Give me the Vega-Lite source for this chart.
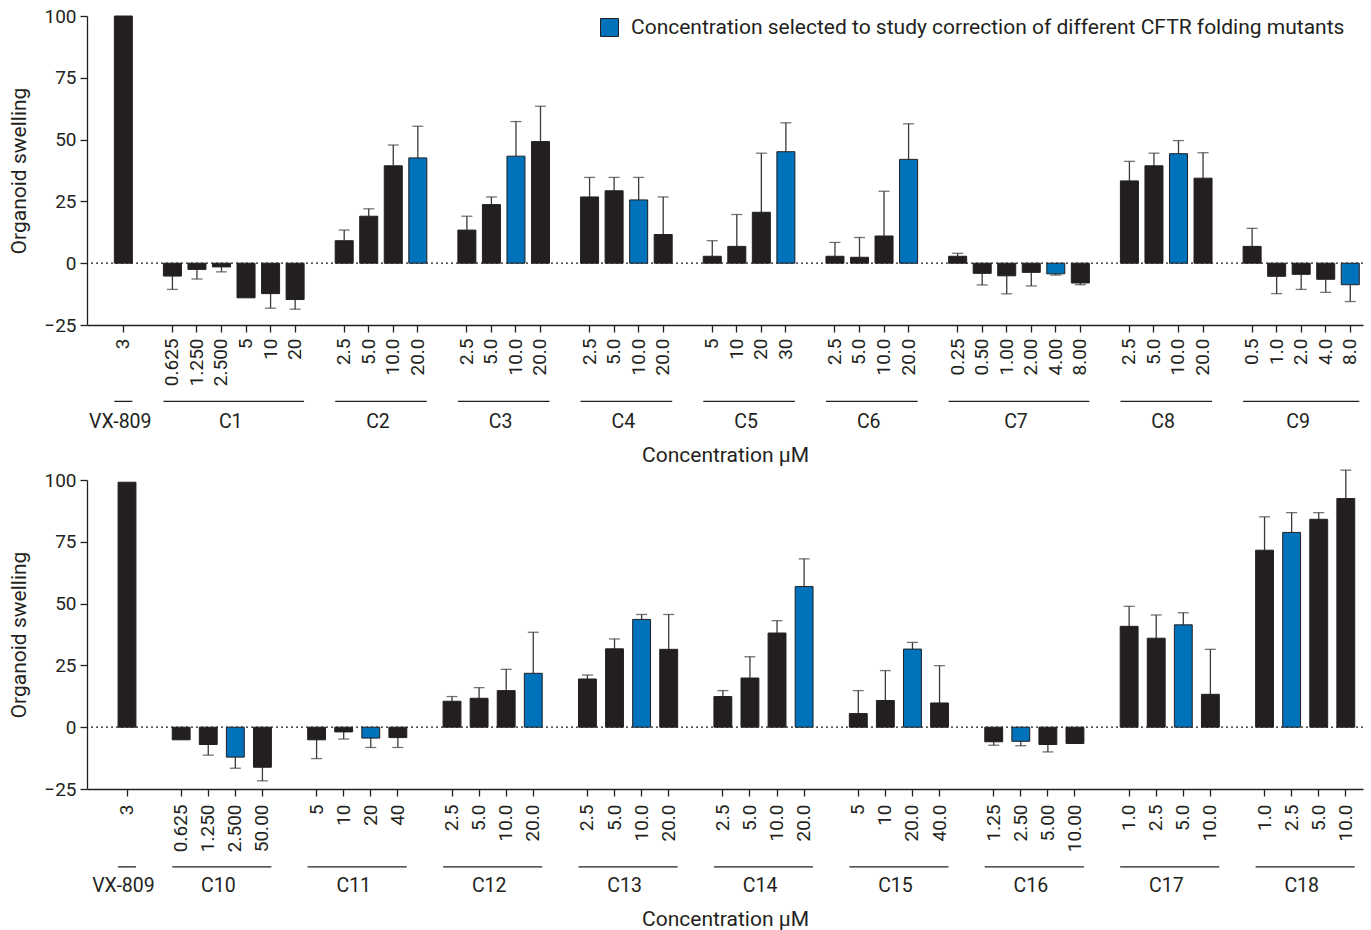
{
  "$schema": "https://vega.github.io/schema/vega-lite/v6.json",
  "padding": {"left": 8, "top": 7, "right": 5, "bottom": 5},
  "background": "white",
  "spacing": 3,
  "config": {
    "font": "Roboto",
    "view": {"stroke": null},
    "axis": {
      "labelFont": "Roboto", "titleFont": "Roboto",
      "labelColor": "#231f20", "titleColor": "#231f20",
      "titleFontWeight": "normal", "domainColor": "#231f20", "tickColor": "#231f20",
      "domainWidth": 1.3, "tickWidth": 1.3, "tickSize": 7,
      "labelFontSize": 19, "titleFontSize": 21, "grid": false
    },
    "text": {"font": "Roboto"}
  },
  "datasets": {
    "bars": [
      {"panel":"top","compound":"VX-809","conc":"3","key":"VX-809|3","value":100,"tip":null,"selected":"no"},
      {"panel":"top","compound":"C1","conc":"0.625","key":"C1|0.625","value":-5.2,"tip":-10.6,"selected":"no"},
      {"panel":"top","compound":"C1","conc":"1.250","key":"C1|1.250","value":-2.5,"tip":-6.4,"selected":"no"},
      {"panel":"top","compound":"C1","conc":"2.500","key":"C1|2.500","value":-1.5,"tip":-3.5,"selected":"no"},
      {"panel":"top","compound":"C1","conc":"5","key":"C1|5","value":-14.0,"tip":null,"selected":"no"},
      {"panel":"top","compound":"C1","conc":"10","key":"C1|10","value":-12.3,"tip":-18.2,"selected":"no"},
      {"panel":"top","compound":"C1","conc":"20","key":"C1|20","value":-14.7,"tip":-18.6,"selected":"no"},
      {"panel":"top","compound":"C2","conc":"2.5","key":"C2|2.5","value":9.1,"tip":13.4,"selected":"no"},
      {"panel":"top","compound":"C2","conc":"5.0","key":"C2|5.0","value":19.0,"tip":22.0,"selected":"no"},
      {"panel":"top","compound":"C2","conc":"10.0","key":"C2|10.0","value":39.4,"tip":47.8,"selected":"no"},
      {"panel":"top","compound":"C2","conc":"20.0","key":"C2|20.0","value":42.6,"tip":55.4,"selected":"yes"},
      {"panel":"top","compound":"C3","conc":"2.5","key":"C3|2.5","value":13.4,"tip":19.0,"selected":"no"},
      {"panel":"top","compound":"C3","conc":"5.0","key":"C3|5.0","value":23.7,"tip":26.8,"selected":"no"},
      {"panel":"top","compound":"C3","conc":"10.0","key":"C3|10.0","value":43.3,"tip":57.3,"selected":"yes"},
      {"panel":"top","compound":"C3","conc":"20.0","key":"C3|20.0","value":49.2,"tip":63.5,"selected":"no"},
      {"panel":"top","compound":"C4","conc":"2.5","key":"C4|2.5","value":26.8,"tip":34.7,"selected":"no"},
      {"panel":"top","compound":"C4","conc":"5.0","key":"C4|5.0","value":29.3,"tip":34.7,"selected":"no"},
      {"panel":"top","compound":"C4","conc":"10.0","key":"C4|10.0","value":25.6,"tip":34.7,"selected":"yes"},
      {"panel":"top","compound":"C4","conc":"20.0","key":"C4|20.0","value":11.6,"tip":26.8,"selected":"no"},
      {"panel":"top","compound":"C5","conc":"5","key":"C5|5","value":2.8,"tip":9.1,"selected":"no"},
      {"panel":"top","compound":"C5","conc":"10","key":"C5|10","value":6.8,"tip":19.7,"selected":"no"},
      {"panel":"top","compound":"C5","conc":"20","key":"C5|20","value":20.6,"tip":44.5,"selected":"no"},
      {"panel":"top","compound":"C5","conc":"30","key":"C5|30","value":45.1,"tip":56.8,"selected":"yes"},
      {"panel":"top","compound":"C6","conc":"2.5","key":"C6|2.5","value":2.8,"tip":8.4,"selected":"no"},
      {"panel":"top","compound":"C6","conc":"5.0","key":"C6|5.0","value":2.4,"tip":10.4,"selected":"no"},
      {"panel":"top","compound":"C6","conc":"10.0","key":"C6|10.0","value":11.0,"tip":29.1,"selected":"no"},
      {"panel":"top","compound":"C6","conc":"20.0","key":"C6|20.0","value":42.0,"tip":56.4,"selected":"yes"},
      {"panel":"top","compound":"C7","conc":"0.25","key":"C7|0.25","value":2.8,"tip":4.0,"selected":"no"},
      {"panel":"top","compound":"C7","conc":"0.50","key":"C7|0.50","value":-4.1,"tip":-8.8,"selected":"no"},
      {"panel":"top","compound":"C7","conc":"1.00","key":"C7|1.00","value":-5.1,"tip":-12.4,"selected":"no"},
      {"panel":"top","compound":"C7","conc":"2.00","key":"C7|2.00","value":-3.7,"tip":-9.2,"selected":"no"},
      {"panel":"top","compound":"C7","conc":"4.00","key":"C7|4.00","value":-4.3,"tip":-4.8,"selected":"yes"},
      {"panel":"top","compound":"C7","conc":"8.00","key":"C7|8.00","value":-8.0,"tip":-8.7,"selected":"no"},
      {"panel":"top","compound":"C8","conc":"2.5","key":"C8|2.5","value":33.3,"tip":41.2,"selected":"no"},
      {"panel":"top","compound":"C8","conc":"5.0","key":"C8|5.0","value":39.4,"tip":44.5,"selected":"no"},
      {"panel":"top","compound":"C8","conc":"10.0","key":"C8|10.0","value":44.3,"tip":49.6,"selected":"yes"},
      {"panel":"top","compound":"C8","conc":"20.0","key":"C8|20.0","value":34.4,"tip":44.7,"selected":"no"},
      {"panel":"top","compound":"C9","conc":"0.5","key":"C9|0.5","value":6.8,"tip":14.1,"selected":"no"},
      {"panel":"top","compound":"C9","conc":"1.0","key":"C9|1.0","value":-5.3,"tip":-12.3,"selected":"no"},
      {"panel":"top","compound":"C9","conc":"2.0","key":"C9|2.0","value":-4.5,"tip":-10.6,"selected":"no"},
      {"panel":"top","compound":"C9","conc":"4.0","key":"C9|4.0","value":-6.5,"tip":-11.8,"selected":"no"},
      {"panel":"top","compound":"C9","conc":"8.0","key":"C9|8.0","value":-8.7,"tip":-15.5,"selected":"yes"},
      {"panel":"bottom","compound":"VX-809","conc":"3","key":"VX-809|3","value":99.1,"tip":null,"selected":"no"},
      {"panel":"bottom","compound":"C10","conc":"0.625","key":"C10|0.625","value":-5.1,"tip":null,"selected":"no"},
      {"panel":"bottom","compound":"C10","conc":"1.250","key":"C10|1.250","value":-7.0,"tip":-11.3,"selected":"no"},
      {"panel":"bottom","compound":"C10","conc":"2.500","key":"C10|2.500","value":-12.1,"tip":-16.6,"selected":"yes"},
      {"panel":"bottom","compound":"C10","conc":"50.00","key":"C10|50.00","value":-16.2,"tip":-21.7,"selected":"no"},
      {"panel":"bottom","compound":"C11","conc":"5","key":"C11|5","value":-5.1,"tip":-12.7,"selected":"no"},
      {"panel":"bottom","compound":"C11","conc":"10","key":"C11|10","value":-1.9,"tip":-4.8,"selected":"no"},
      {"panel":"bottom","compound":"C11","conc":"20","key":"C11|20","value":-4.4,"tip":-8.2,"selected":"yes"},
      {"panel":"bottom","compound":"C11","conc":"40","key":"C11|40","value":-4.2,"tip":-8.2,"selected":"no"},
      {"panel":"bottom","compound":"C12","conc":"2.5","key":"C12|2.5","value":10.5,"tip":12.4,"selected":"no"},
      {"panel":"bottom","compound":"C12","conc":"5.0","key":"C12|5.0","value":11.7,"tip":16.0,"selected":"no"},
      {"panel":"bottom","compound":"C12","conc":"10.0","key":"C12|10.0","value":14.8,"tip":23.4,"selected":"no"},
      {"panel":"bottom","compound":"C12","conc":"20.0","key":"C12|20.0","value":21.8,"tip":38.4,"selected":"yes"},
      {"panel":"bottom","compound":"C13","conc":"2.5","key":"C13|2.5","value":19.5,"tip":21.1,"selected":"no"},
      {"panel":"bottom","compound":"C13","conc":"5.0","key":"C13|5.0","value":31.7,"tip":35.7,"selected":"no"},
      {"panel":"bottom","compound":"C13","conc":"10.0","key":"C13|10.0","value":43.6,"tip":45.6,"selected":"yes"},
      {"panel":"bottom","compound":"C13","conc":"20.0","key":"C13|20.0","value":31.5,"tip":45.6,"selected":"no"},
      {"panel":"bottom","compound":"C14","conc":"2.5","key":"C14|2.5","value":12.4,"tip":14.8,"selected":"no"},
      {"panel":"bottom","compound":"C14","conc":"5.0","key":"C14|5.0","value":19.9,"tip":28.5,"selected":"no"},
      {"panel":"bottom","compound":"C14","conc":"10.0","key":"C14|10.0","value":38.1,"tip":43.1,"selected":"no"},
      {"panel":"bottom","compound":"C14","conc":"20.0","key":"C14|20.0","value":56.9,"tip":68.1,"selected":"yes"},
      {"panel":"bottom","compound":"C15","conc":"5","key":"C15|5","value":5.5,"tip":14.8,"selected":"no"},
      {"panel":"bottom","compound":"C15","conc":"10","key":"C15|10","value":10.8,"tip":22.9,"selected":"no"},
      {"panel":"bottom","compound":"C15","conc":"20.0","key":"C15|20.0","value":31.6,"tip":34.3,"selected":"yes"},
      {"panel":"bottom","compound":"C15","conc":"40.0","key":"C15|40.0","value":9.8,"tip":24.9,"selected":"no"},
      {"panel":"bottom","compound":"C16","conc":"1.25","key":"C16|1.25","value":-5.9,"tip":-7.3,"selected":"no"},
      {"panel":"bottom","compound":"C16","conc":"2.50","key":"C16|2.50","value":-5.7,"tip":-7.5,"selected":"yes"},
      {"panel":"bottom","compound":"C16","conc":"5.00","key":"C16|5.00","value":-7.0,"tip":-10.0,"selected":"no"},
      {"panel":"bottom","compound":"C16","conc":"10.00","key":"C16|10.00","value":-6.6,"tip":null,"selected":"no"},
      {"panel":"bottom","compound":"C17","conc":"1.0","key":"C17|1.0","value":40.8,"tip":48.9,"selected":"no"},
      {"panel":"bottom","compound":"C17","conc":"2.5","key":"C17|2.5","value":36.0,"tip":45.4,"selected":"no"},
      {"panel":"bottom","compound":"C17","conc":"5.0","key":"C17|5.0","value":41.4,"tip":46.3,"selected":"yes"},
      {"panel":"bottom","compound":"C17","conc":"10.0","key":"C17|10.0","value":13.3,"tip":31.5,"selected":"no"},
      {"panel":"bottom","compound":"C18","conc":"1.0","key":"C18|1.0","value":71.6,"tip":85.1,"selected":"no"},
      {"panel":"bottom","compound":"C18","conc":"2.5","key":"C18|2.5","value":78.8,"tip":86.8,"selected":"yes"},
      {"panel":"bottom","compound":"C18","conc":"5.0","key":"C18|5.0","value":84.1,"tip":86.8,"selected":"no"},
      {"panel":"bottom","compound":"C18","conc":"10.0","key":"C18|10.0","value":92.5,"tip":104.0,"selected":"no"}
    ],
    "groups": [
      {"panel":"top","compound":"VX-809","first":"VX-809|3","last":"VX-809|3","mid":"VX-809|3","even":false},
      {"panel":"top","compound":"C1","first":"C1|0.625","last":"C1|20","mid":"C1|5","even":true},
      {"panel":"top","compound":"C2","first":"C2|2.5","last":"C2|20.0","mid":"C2|10.0","even":true},
      {"panel":"top","compound":"C3","first":"C3|2.5","last":"C3|20.0","mid":"C3|10.0","even":true},
      {"panel":"top","compound":"C4","first":"C4|2.5","last":"C4|20.0","mid":"C4|10.0","even":true},
      {"panel":"top","compound":"C5","first":"C5|5","last":"C5|30","mid":"C5|20","even":true},
      {"panel":"top","compound":"C6","first":"C6|2.5","last":"C6|20.0","mid":"C6|10.0","even":true},
      {"panel":"top","compound":"C7","first":"C7|0.25","last":"C7|8.00","mid":"C7|2.00","even":true},
      {"panel":"top","compound":"C8","first":"C8|2.5","last":"C8|20.0","mid":"C8|10.0","even":true},
      {"panel":"top","compound":"C9","first":"C9|0.5","last":"C9|8.0","mid":"C9|2.0","even":false},
      {"panel":"bottom","compound":"VX-809","first":"VX-809|3","last":"VX-809|3","mid":"VX-809|3","even":false},
      {"panel":"bottom","compound":"C10","first":"C10|0.625","last":"C10|50.00","mid":"C10|2.500","even":true},
      {"panel":"bottom","compound":"C11","first":"C11|5","last":"C11|40","mid":"C11|20","even":true},
      {"panel":"bottom","compound":"C12","first":"C12|2.5","last":"C12|20.0","mid":"C12|10.0","even":true},
      {"panel":"bottom","compound":"C13","first":"C13|2.5","last":"C13|20.0","mid":"C13|10.0","even":true},
      {"panel":"bottom","compound":"C14","first":"C14|2.5","last":"C14|20.0","mid":"C14|10.0","even":true},
      {"panel":"bottom","compound":"C15","first":"C15|5","last":"C15|40.0","mid":"C15|20.0","even":true},
      {"panel":"bottom","compound":"C16","first":"C16|1.25","last":"C16|10.00","mid":"C16|5.00","even":true},
      {"panel":"bottom","compound":"C17","first":"C17|1.0","last":"C17|10.0","mid":"C17|5.0","even":true},
      {"panel":"bottom","compound":"C18","first":"C18|1.0","last":"C18|10.0","mid":"C18|5.0","even":true}
    ]
  },
  "resolve": {"scale": {"color": "independent"}, "legend": {"color": "independent"}},
  "vconcat": [
    {
      "width": 1276,
      "height": 309,
      "layer": [
        {
          "data": {"values": [{}]},
          "mark": {"type": "rule", "strokeDash": [2, 3], "color": "#231f20", "strokeWidth": 1.2},
          "encoding": {"y": {"datum": 0, "type": "quantitative", "title": "Organoid swelling"}}
        },
        {
          "data": {"name": "bars"},
          "transform": [{"filter": "datum.panel == 'top' && datum.tip != null"}],
          "mark": {"type": "rule", "color": "#3a3a3a", "strokeWidth": 1.3},
          "encoding": {
            "x": {"field": "key", "type": "nominal", "title": "Concentration µM"},
            "y": {"field": "value", "type": "quantitative", "title": "Organoid swelling"},
            "y2": {"field": "tip"}
          }
        },
        {
          "data": {"name": "bars"},
          "transform": [{"filter": "datum.panel == 'top' && datum.tip != null"}],
          "mark": {"type": "tick", "color": "#3a3a3a", "thickness": 1.3, "size": 11},
          "encoding": {
            "x": {"field": "key", "type": "nominal", "title": "Concentration µM"},
            "y": {"field": "tip", "type": "quantitative", "title": "Organoid swelling"}
          }
        },
        {
          "data": {"name": "bars"},
          "transform": [{"filter": "datum.panel == 'top'"}],
          "mark": {"type": "bar", "stroke": "#231f20", "strokeWidth": 1},
          "encoding": {
            "x": {
              "field": "key", "type": "nominal", "title": "Concentration µM",
              "scale": {
                "domain": ["VX-809|3","g1","C1|0.625","C1|1.250","C1|2.500","C1|5","C1|10","C1|20","g2","C2|2.5","C2|5.0","C2|10.0","C2|20.0","g3","C3|2.5","C3|5.0","C3|10.0","C3|20.0","g4","C4|2.5","C4|5.0","C4|10.0","C4|20.0","g5","C5|5","C5|10","C5|20","C5|30","g6","C6|2.5","C6|5.0","C6|10.0","C6|20.0","g7","C7|0.25","C7|0.50","C7|1.00","C7|2.00","C7|4.00","C7|8.00","g8","C8|2.5","C8|5.0","C8|10.0","C8|20.0","g9","C9|0.5","C9|1.0","C9|2.0","C9|4.0","C9|8.0"],
                "paddingInner": 0.266, "paddingOuter": 0.633, "align": 0.88
              },
              "axis": {
                "labelAngle": -90,
                "labelExpr": "indexof(datum.value, '|') < 0 ? '' : split(datum.value, '|')[1]",
                "tickOpacity": {"condition": {"test": "indexof(datum.value, '|') < 0", "value": 0}, "value": 1},
                "labelPadding": 6,
                "titlePadding": 59
              }
            },
            "y": {
              "field": "value", "type": "quantitative", "title": "Organoid swelling", "stack": null,
              "scale": {"domain": [-25, 100], "nice": false},
              "axis": {"values": [-25, 0, 25, 50, 75, 100], "titlePadding": 14, "labelPadding": 4}
            },
            "y2": {"datum": 0},
            "color": {
              "field": "selected", "type": "nominal",
              "scale": {"domain": ["no", "yes"], "range": ["#231f20", "#0072bc"]},
              "legend": {
                "title": null, "values": ["yes"],
                "labelExpr": "'Concentration selected to study correction of different CFTR folding mutants'",
                "orient": "none", "legendX": 512, "legendY": 1, "padding": 0,
                "symbolType": "square", "symbolSize": 324,
                "symbolStrokeColor": "#231f20", "symbolStrokeWidth": 1,
                "labelFontSize": 21, "labelFont": "Roboto", "labelColor": "#231f20",
                "labelLimit": 1000, "labelOffset": 11
              }
            }
          }
        },
        {
          "data": {"name": "groups"},
          "transform": [{"filter": "datum.panel == 'top'"}],
          "mark": {"type": "rule", "color": "#231f20", "strokeWidth": 1.3},
          "encoding": {
            "x": {"field": "first", "type": "nominal", "bandPosition": 0, "title": "Concentration µM"},
            "x2": {"field": "last", "bandPosition": 1},
            "y": {"datum": -55.9, "type": "quantitative", "title": "Organoid swelling"}
          }
        },
        {
          "data": {"name": "groups"},
          "transform": [{"filter": "datum.panel == 'top' && !datum.even"}],
          "mark": {"type": "text", "fontSize": 19.5, "color": "#231f20", "baseline": "alphabetic", "align": "center"},
          "encoding": {
            "x": {"field": "mid", "type": "nominal", "bandPosition": 0.33, "title": "Concentration µM"},
            "y": {"datum": -66.5, "type": "quantitative", "title": "Organoid swelling"},
            "text": {"field": "compound"}
          }
        },
        {
          "data": {"name": "groups"},
          "transform": [{"filter": "datum.panel == 'top' && datum.even"}],
          "mark": {"type": "text", "fontSize": 19.5, "color": "#231f20", "baseline": "alphabetic", "align": "center"},
          "encoding": {
            "x": {"field": "mid", "type": "nominal", "bandPosition": -0.35, "title": "Concentration µM"},
            "y": {"datum": -66.5, "type": "quantitative", "title": "Organoid swelling"},
            "text": {"field": "compound"}
          }
        }
      ]
    },
    {
      "width": 1276,
      "height": 309,
      "layer": [
        {
          "data": {"values": [{}]},
          "mark": {"type": "rule", "strokeDash": [2, 3], "color": "#231f20", "strokeWidth": 1.2},
          "encoding": {"y": {"datum": 0, "type": "quantitative", "title": "Organoid swelling"}}
        },
        {
          "data": {"name": "bars"},
          "transform": [{"filter": "datum.panel == 'bottom' && datum.tip != null"}],
          "mark": {"type": "rule", "color": "#3a3a3a", "strokeWidth": 1.3},
          "encoding": {
            "x": {"field": "key", "type": "nominal", "title": "Concentration µM"},
            "y": {"field": "value", "type": "quantitative", "title": "Organoid swelling"},
            "y2": {"field": "tip"}
          }
        },
        {
          "data": {"name": "bars"},
          "transform": [{"filter": "datum.panel == 'bottom' && datum.tip != null"}],
          "mark": {"type": "tick", "color": "#3a3a3a", "thickness": 1.3, "size": 11},
          "encoding": {
            "x": {"field": "key", "type": "nominal", "title": "Concentration µM"},
            "y": {"field": "tip", "type": "quantitative", "title": "Organoid swelling"}
          }
        },
        {
          "data": {"name": "bars"},
          "transform": [{"filter": "datum.panel == 'bottom'"}],
          "mark": {"type": "bar", "stroke": "#231f20", "strokeWidth": 1},
          "encoding": {
            "x": {
              "field": "key", "type": "nominal", "title": "Concentration µM",
              "scale": {
                "domain": ["VX-809|3","g1","C10|0.625","C10|1.250","C10|2.500","C10|50.00","g2","C11|5","C11|10","C11|20","C11|40","g3","C12|2.5","C12|5.0","C12|10.0","C12|20.0","g4","C13|2.5","C13|5.0","C13|10.0","C13|20.0","g5","C14|2.5","C14|5.0","C14|10.0","C14|20.0","g6","C15|5","C15|10","C15|20.0","C15|40.0","g7","C16|1.25","C16|2.50","C16|5.00","C16|10.00","g8","C17|1.0","C17|2.5","C17|5.0","C17|10.0","g9","C18|1.0","C18|2.5","C18|5.0","C18|10.0"],
                "paddingInner": 0.34, "paddingOuter": 0.726, "align": 0.79
              },
              "axis": {
                "labelAngle": -90,
                "labelExpr": "indexof(datum.value, '|') < 0 ? '' : split(datum.value, '|')[1]",
                "tickOpacity": {"condition": {"test": "indexof(datum.value, '|') < 0", "value": 0}, "value": 1},
                "labelPadding": 8,
                "titlePadding": 57
              }
            },
            "y": {
              "field": "value", "type": "quantitative", "title": "Organoid swelling", "stack": null,
              "scale": {"domain": [-25, 100], "nice": false},
              "axis": {"values": [-25, 0, 25, 50, 75, 100], "titlePadding": 14, "labelPadding": 4}
            },
            "y2": {"datum": 0},
            "color": {
              "field": "selected", "type": "nominal",
              "scale": {"domain": ["no", "yes"], "range": ["#231f20", "#0072bc"]},
              "legend": null
            }
          }
        },
        {
          "data": {"name": "groups"},
          "transform": [{"filter": "datum.panel == 'bottom'"}],
          "mark": {"type": "rule", "color": "#231f20", "strokeWidth": 1.3},
          "encoding": {
            "x": {"field": "first", "type": "nominal", "bandPosition": 0, "title": "Concentration µM"},
            "x2": {"field": "last", "bandPosition": 1},
            "y": {"datum": -56.5, "type": "quantitative", "title": "Organoid swelling"}
          }
        },
        {
          "data": {"name": "groups"},
          "transform": [{"filter": "datum.panel == 'bottom' && !datum.even"}],
          "mark": {"type": "text", "fontSize": 19.5, "color": "#231f20", "baseline": "alphabetic", "align": "center"},
          "encoding": {
            "x": {"field": "mid", "type": "nominal", "bandPosition": 0.3, "title": "Concentration µM"},
            "y": {"datum": -66.8, "type": "quantitative", "title": "Organoid swelling"},
            "text": {"field": "compound"}
          }
        },
        {
          "data": {"name": "groups"},
          "transform": [{"filter": "datum.panel == 'bottom' && datum.even"}],
          "mark": {"type": "text", "fontSize": 19.5, "color": "#231f20", "baseline": "alphabetic", "align": "center"},
          "encoding": {
            "x": {"field": "mid", "type": "nominal", "bandPosition": -0.45, "title": "Concentration µM"},
            "y": {"datum": -66.8, "type": "quantitative", "title": "Organoid swelling"},
            "text": {"field": "compound"}
          }
        }
      ]
    }
  ]
}
